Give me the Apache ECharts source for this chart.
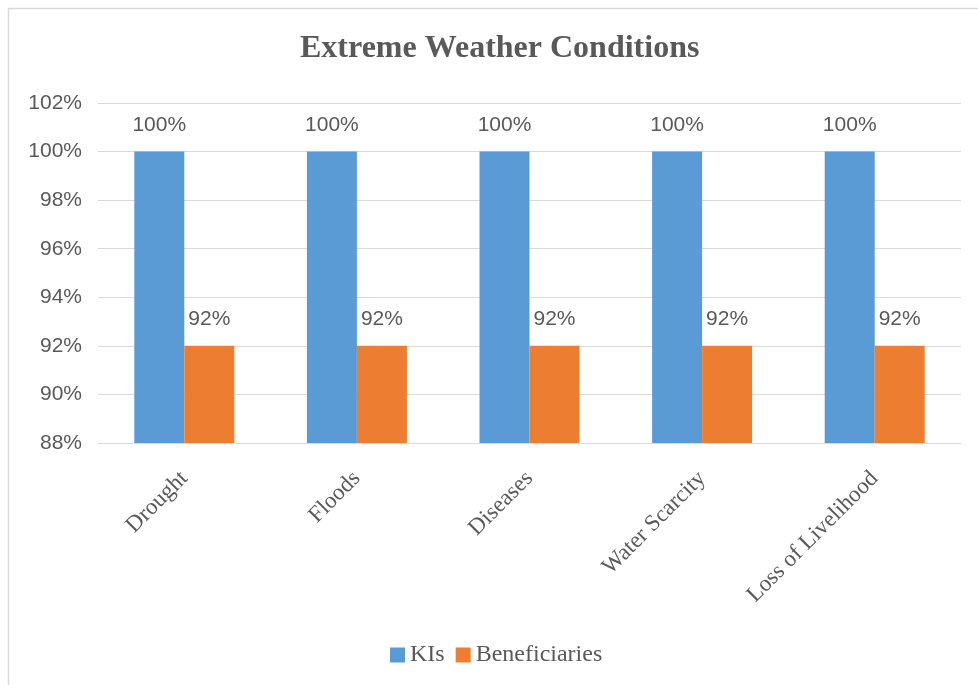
<!DOCTYPE html>
<html>
<head>
<meta charset="utf-8">
<script src="https://cdn.jsdelivr.net/npm/echarts@6/dist/echarts.min.js"></script>
<style>
html,body{margin:0;padding:0;background:#fff;}
#chart{width:978px;height:685px;}
</style>
</head>
<body>
<div id="chart"></div>
<script>
const categories = ['Drought', 'Floods', 'Diseases', 'Water Scarcity', 'Loss of Livelihood'];
const kisValues = [100, 100, 100, 100, 100];
const beneficiaryValues = [92, 92, 92, 92, 92];
const seriesNames = ['KIs', 'Beneficiaries'];
const yMin = 88, yMax = 102, yStep = 2;

const chart = echarts.init(document.getElementById('chart'));
const textColor = '#595959';
const serif = '"Liberation Serif", "Times New Roman", serif';
const sans = '"Liberation Sans", Arial, sans-serif';

chart.setOption({
  animation: false,
  backgroundColor: '#fff',
  title: {
    text: 'Extreme Weather Conditions',
    left: 295,
    top: 28,
    textStyle: { fontFamily: serif, fontWeight: 'bold', fontSize: 32, color: textColor }
  },
  graphic: [{
    type: 'rect',
    shape: { x: 8.5, y: 8.5, width: 1000, height: 1000 },
    style: { fill: 'none', stroke: '#D9D9D9', lineWidth: 1.5 },
    silent: true
  }],
  legend: {
    data: seriesNames,
    bottom: 13,
    left: 385,
    itemWidth: 15,
    itemHeight: 15,
    itemGap: 11,
    icon: 'rect',
    textStyle: { fontFamily: serif, fontSize: 24, color: textColor }
  },
  grid: { left: 98, right: 17, top: 103, bottom: 242, containLabel: false },
  xAxis: {
    type: 'category',
    data: categories,
    axisLine: { lineStyle: { color: '#D9D9D9', width: 1 } },
    axisTick: { show: false },
    axisLabel: { rotate: 45, margin: 32, fontFamily: serif, fontSize: 23, color: textColor, interval: 0 }
  },
  yAxis: {
    type: 'value',
    min: yMin,
    max: yMax,
    interval: yStep,
    axisLine: { show: false },
    axisTick: { show: false },
    splitLine: { lineStyle: { color: '#D9D9D9', width: 1 } },
    axisLabel: { formatter: '{value}%', fontFamily: sans, fontSize: 21, color: textColor, margin: 16 }
  },
  series: [
    {
      name: seriesNames[0],
      type: 'bar',
      data: kisValues,
      barWidth: 50,
      barGap: '0%',
      itemStyle: { color: '#5B9BD5' },
      label: { show: true, position: 'top', distance: 16, formatter: '{c}%', fontFamily: sans, fontSize: 21, color: textColor }
    },
    {
      name: seriesNames[1],
      type: 'bar',
      data: beneficiaryValues,
      barWidth: 50,
      barGap: '0%',
      itemStyle: { color: '#ED7D31' },
      label: { show: true, position: 'top', distance: 16, formatter: '{c}%', fontFamily: sans, fontSize: 21, color: textColor }
    }
  ]
});
</script>
</body>
</html>
